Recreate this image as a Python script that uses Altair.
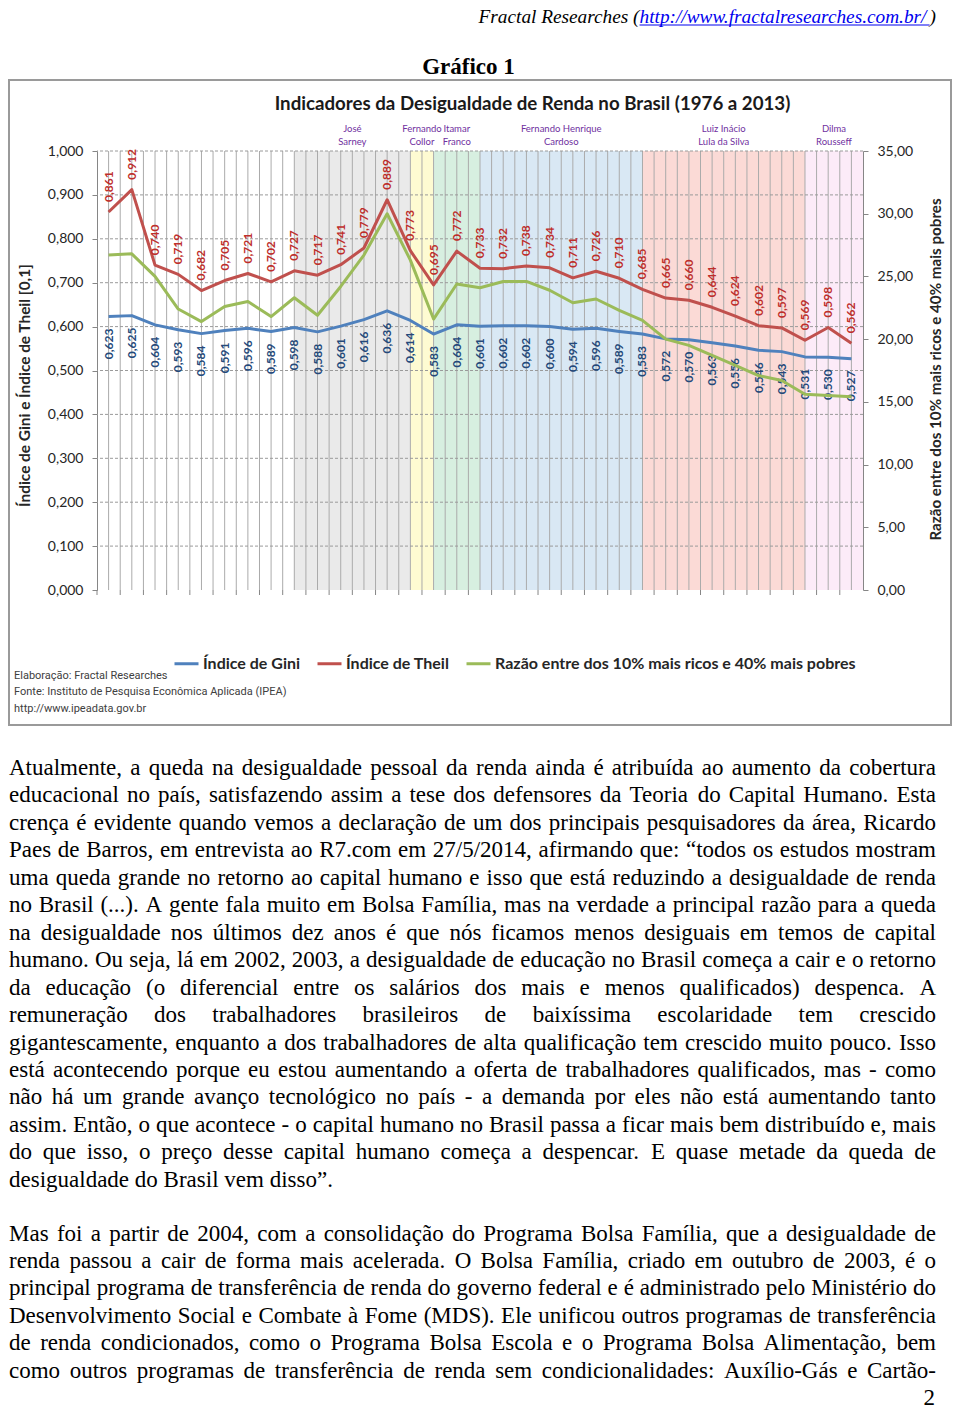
import unicodedata
import altair as alt
import pandas as pd

# ---------------- data ----------------
YEARS = ["1976", "1977", "1978", "1979", "1981", "1982", "1983", "1984", "1985",
         "1986", "1987", "1988", "1989", "1990", "1992", "1993", "1995", "1996",
         "1997", "1998", "1999", "2001", "2002", "2003", "2004", "2005", "2006",
         "2007", "2008", "2009", "2011", "2012", "2013"]
GINI = [0.623, 0.625, 0.604, 0.593, 0.584, 0.591, 0.596, 0.589, 0.598, 0.588,
        0.601, 0.616, 0.636, 0.614, 0.583, 0.604, 0.601, 0.602, 0.602, 0.600,
        0.594, 0.596, 0.589, 0.583, 0.572, 0.570, 0.563, 0.556, 0.546, 0.543,
        0.531, 0.530, 0.527]
THEIL = [0.861, 0.912, 0.740, 0.719, 0.682, 0.705, 0.721, 0.702, 0.727, 0.717,
         0.741, 0.779, 0.889, 0.773, 0.695, 0.772, 0.733, 0.732, 0.738, 0.734,
         0.711, 0.726, 0.710, 0.685, 0.665, 0.660, 0.644, 0.624, 0.602, 0.597,
         0.569, 0.598, 0.562]
RAZAO = [26.7, 26.8, 25.0, 22.4, 21.4, 22.6, 23.0, 21.8, 23.3, 21.9, 24.2, 26.7,
         30.0, 26.3, 21.6, 24.4, 24.1, 24.6, 24.6, 23.9, 22.9, 23.2, 22.3, 21.5,
         20.0, 19.5, 18.7, 17.9, 17.1, 16.7, 15.6, 15.5, 15.4]
SERIES = ["Índice de Gini", "Índice de Theil",
          "Razão entre dos 10% mais ricos e 40% mais pobres"]

PRES_LINE1 = ["José", "Fernando", "Itamar", "Fernando Henrique", "Luiz Inácio", "Dilma"]
PRES_LINE2 = ["Sarney", "Collor", "Franco", "Cardoso", "Lula da Silva", "Rousseff"]
TERM_START = ["1985", "1990", "1992", "1995", "2003", "2011"]
TERM_END = ["1990", "1992", "1995", "2003", "2011", ""]   # "" = up to the end of the axis

LEFT_TICKS = [0.0, 0.1, 0.2, 0.3, 0.4, 0.5, 0.6, 0.7, 0.8, 0.9, 1.0]
RIGHT_TICKS = [0, 5, 10, 15, 20, 25, 30, 35]

CHART_TITLE = "Indicadores da Desigualdade de Renda no Brasil (1976 a 2013)"
LEFT_TITLE = "Índice de Gini e Índice de Theil [0,1]"
RIGHT_TITLE = "Razão entre dos 10% mais ricos e 40% mais pobres"
SOURCE_LINES = ["Elaboração: Fractal Researches",
                "Fonte: Instituto de Pesquisa Econômica Aplicada (IPEA)",
                "http://www.ipeadata.gov.br"]
HEADER_PREFIX = "Fractal Researches ("
HEADER_LINK = "http://www.fractalresearches.com.br/"
HEADER_SUFFIX = ")"
CAPTION = "Gráfico 1"
PAGE_NUMBER = "2"

PARA1 = [
    "Atualmente, a queda na desigualdade pessoal da renda ainda é atribuída ao aumento da cobertura",
    "educacional no país, satisfazendo assim a tese dos defensores da Teoria do Capital Humano. Esta",
    "crença é evidente quando vemos a declaração de um dos principais pesquisadores da área, Ricardo",
    "Paes de Barros, em entrevista ao R7.com em 27/5/2014, afirmando que: “todos os estudos mostram",
    "uma queda grande no retorno ao capital humano e isso que está reduzindo a desigualdade de renda",
    "no Brasil (...). A gente fala muito em Bolsa Família, mas na verdade a principal razão para a queda",
    "na desigualdade nos últimos dez anos é que nós ficamos menos desiguais em temos de capital",
    "humano. Ou seja, lá em 2002, 2003, a desigualdade de educação no Brasil começa a cair e o retorno",
    "da educação (o diferencial entre os salários dos mais e menos qualificados) despenca. A",
    "remuneração dos trabalhadores brasileiros de baixíssima escolaridade tem crescido",
    "gigantescamente, enquanto a dos trabalhadores de alta qualificação tem crescido muito pouco. Isso",
    "está acontecendo porque eu estou aumentando a oferta de trabalhadores qualificados, mas - como",
    "não há um grande avanço tecnológico no país - a demanda por eles não está aumentando tanto",
    "assim. Então, o que acontece - o capital humano no Brasil passa a ficar mais bem distribuído e, mais",
    "do que isso, o preço desse capital humano começa a despencar. E quase metade da queda de",
    "desigualdade do Brasil vem disso”.",
]
PARA2 = [
    "Mas foi a partir de 2004, com a consolidação do Programa Bolsa Família, que a desigualdade de",
    "renda passou a cair de forma mais acelerada. O Bolsa Família, criado em outubro de 2003, é o",
    "principal programa de transferência de renda do governo federal e é administrado pelo Ministério do",
    "Desenvolvimento Social e Combate à Fome (MDS). Ele unificou outros programas de transferência",
    "de renda condicionados, como o Programa Bolsa Escola e o Programa Bolsa Alimentação, bem",
    "como outros programas de transferência de renda sem condicionalidades: Auxílio-Gás e Cartão-",
]

# ---------------- styles / layout ----------------
SERIES_COLORS = ["#4f81bd", "#c0504d", "#9bbb59"]
TERM_COLORS = ["#eaeaea", "#fefbd2", "#d7efe0", "#d9e8f4", "#fbdad6", "#fcebf8"]
PX0, PY0 = 97, 151            # plot-area origin on the page
W, H = 766, 439
TOTAL_W, TOTAL_H = 944, 1399

# Times (Liberation Serif) advance widths, 1/1000 em
TR = {' ': 250, ',': 250, '.': 250, ':': 278, ';': 278, '(': 333, ')': 333, '-': 333,
      '/': 278, '%': 833, '“': 444, '”': 444, '"': 408, '?': 444, '!': 333,
      'a': 444, 'b': 500, 'c': 444, 'd': 500, 'e': 444, 'f': 333, 'g': 500, 'h': 500,
      'i': 278, 'j': 278, 'k': 500, 'l': 278, 'm': 778, 'n': 500, 'o': 500, 'p': 500,
      'q': 500, 'r': 333, 's': 389, 't': 278, 'u': 500, 'v': 500, 'w': 722, 'x': 500,
      'y': 500, 'z': 444,
      'A': 722, 'B': 667, 'C': 667, 'D': 722, 'E': 611, 'F': 556, 'G': 722, 'H': 722,
      'I': 333, 'J': 389, 'K': 722, 'L': 611, 'M': 889, 'N': 722, 'O': 722, 'P': 556,
      'Q': 722, 'R': 667, 'S': 556, 'T': 611, 'U': 722, 'V': 722, 'W': 944, 'X': 722,
      'Y': 722, 'Z': 611}
TI = dict(TR)
TI.update({'F': 611, 'r': 389, 'a': 500, 'R': 611, ':': 333, 'w': 667, 'f': 278, 'm': 722})


def tw(s, table, size):
    tot = 0
    for ch in s:
        if ch.isdigit():
            tot += 500
        elif ch in table:
            tot += table[ch]
        else:
            tot += table.get(unicodedata.normalize('NFD', ch)[0], 500)
    return tot * size / 1000.0


def note(text, x, y, **kw):
    return alt.Chart(pd.DataFrame({"t": [text]})).mark_text(**kw).encode(
        text="t:N", x=alt.value(x - PX0), y=alt.value(y - PY0))


n = len(YEARS)
IDX = list(range(n))
xscale = alt.Scale(domain=[-0.5, n - 0.5], nice=False, zero=False)
yl = alt.Scale(domain=[0, 1], nice=False, zero=False)
yr = alt.Scale(domain=[0, 35], nice=False, zero=False)
color = alt.Color("serie:N", scale=alt.Scale(domain=SERIES, range=SERIES_COLORS),
                  legend=alt.Legend(orient="none", legendX=76, legendY=499,
                                    direction="horizontal", title=None,
                                    symbolType="stroke", symbolStrokeWidth=3,
                                    symbolSize=576, labelFont="Lato",
                                    labelFontSize=16, labelFontWeight="bold",
                                    labelColor="#262626", columnPadding=10,
                                    labelOffset=3, labelLimit=600))


def xenc(field):
    return alt.X(field, type="quantitative", scale=xscale, axis=None)


# ---- background presidential terms ----
terms = pd.DataFrame({
    "x1": [YEARS.index(s) for s in TERM_START],
    "x2": [YEARS.index(e) if e else n - 0.5 for e in TERM_END],
    "fillc": TERM_COLORS,
    "l1": PRES_LINE1,
    "l2": PRES_LINE2,
})
terms["mid"] = (terms["x1"] + terms["x2"]) / 2
rects = alt.Chart(terms).mark_rect().encode(
    x=xenc("x1"), x2="x2", y=alt.value(0), y2=alt.value(H),
    fill=alt.Fill("fillc:N", scale=None, legend=None))
pres1 = alt.Chart(terms).mark_text(font="Lato", fontSize=9.5, color="#7030a0").encode(
    x=xenc("mid"), y=alt.value(-22), text="l1:N")
pres2 = alt.Chart(terms).mark_text(font="Lato", fontSize=9.5, color="#7030a0").encode(
    x=xenc("mid"), y=alt.value(-9), text="l2:N")

# ---- vertical and horizontal grid ----
yrs = pd.DataFrame({"idx": IDX})
vcenter = alt.Chart(yrs).mark_rule(color="#ababab", strokeWidth=1).encode(x=xenc("idx"))
vbound = alt.Chart(yrs).transform_calculate(b="datum.idx - 0.5").transform_filter(
    "datum.b > -0.5").mark_rule(color="#ababab", strokeWidth=1).encode(x=xenc("b"))
xticks = alt.Chart(yrs).transform_calculate(b="datum.idx - 0.5").mark_rule(
    color="#868686", strokeWidth=1).encode(
    x=xenc("b"), y=alt.value(H), y2=alt.value(H + 5))
hgrid = alt.Chart(pd.DataFrame({"tick": LEFT_TICKS[1:]})).mark_rule(
    color="#9a9a9a", strokeWidth=1, strokeDash=[3, 2]).encode(
    y=alt.Y("tick:Q", scale=yl, axis=None))

# ---- series ----
lines_df = pd.DataFrame({"idx": IDX * 2, "val": GINI + THEIL,
                         "serie": [SERIES[0]] * n + [SERIES[1]] * n})
lab_expr = "[" + ",".join("'%s'" % y for y in YEARS) + "][datum.value]"
lines = alt.Chart(lines_df).mark_line(strokeWidth=3, strokeJoin="round").encode(
    x=alt.X("idx:Q", scale=xscale,
            axis=alt.Axis(values=IDX, labelExpr=lab_expr, labelAngle=270,
                          labelFont="Lato", labelFontSize=14, labelFontWeight="bold",
                          labelColor="#262626", labelPadding=10, ticks=False,
                          tickSize=0, grid=False, domainColor="#868686",
                          labelOverlap=False, labelFlush=False, title=None)),
    y=alt.Y("val:Q", scale=yl,
            axis=alt.Axis(orient="left", values=LEFT_TICKS, grid=False, tickSize=5,
                          tickColor="#868686", domainColor="#868686",
                          labelExpr="replace(format(datum.value, '.3f'), '.', ',')",
                          labelFont="Lato", labelFontSize=14, labelColor="#262626",
                          labelPadding=9, title=LEFT_TITLE, titleFont="Lato",
                          titleFontSize=15.4, titleFontWeight="bold",
                          titleColor="#262626", titleAngle=270, titleX=-73,
                          titleY=234, titleAlign="center", titleBaseline="middle")),
    color=color, detail="serie:N")

lab_df = pd.DataFrame({"idx": IDX, "gini": GINI, "theil": THEIL})
lab_df["gl"] = [("%.3f" % v).replace(".", ",") for v in GINI]
lab_df["tl"] = [("%.3f" % v).replace(".", ",") for v in THEIL]
theil_lab = alt.Chart(lab_df).mark_text(
    angle=270, align="left", baseline="middle", dx=10, font="Lato",
    fontSize=12, fontWeight="bold", color="#be2e2b").encode(
    x=xenc("idx"), y=alt.Y("theil:Q", scale=yl, axis=None), text="tl:N")
gini_lab = alt.Chart(lab_df).mark_text(
    angle=270, align="right", baseline="middle", dx=-12, font="Lato",
    fontSize=12, fontWeight="bold", color="#24497a").encode(
    x=xenc("idx"), y=alt.Y("gini:Q", scale=yl, axis=None), text="gl:N")

ratio_df = pd.DataFrame({"idx": IDX, "razao": RAZAO, "serie": SERIES[2]})
ratio = alt.Chart(ratio_df).mark_line(strokeWidth=3, strokeJoin="round").encode(
    x=xenc("idx"),
    y=alt.Y("razao:Q", scale=yr,
            axis=alt.Axis(orient="right", values=RIGHT_TICKS, grid=False,
                          tickSize=5, tickColor="#868686", domainColor="#868686",
                          labelExpr="replace(format(datum.value, '.2f'), '.', ',')",
                          labelFont="Lato", labelFontSize=14, labelColor="#262626",
                          labelPadding=9, title=RIGHT_TITLE, titleFont="Lato",
                          titleFontSize=15.2, titleFontWeight="bold",
                          titleColor="#262626", titleAngle=270, titleX=72,
                          titleY=218, titleAlign="center", titleBaseline="middle")),
    color=color)

# ---- chart frame, title, source ----
frame = alt.Chart(pd.DataFrame({"a": [0]})).mark_rect(
    fillOpacity=0, stroke="#9a9a9a", strokeWidth=2).encode(
    x=alt.value(9 - PX0), x2=alt.value(951 - PX0),
    y=alt.value(80 - PY0), y2=alt.value(725 - PY0))
title = note(CHART_TITLE, 532.5, 104, font="Lato", fontSize=18.7, fontWeight="bold",
             color="#1a1a1a")
src = [note(t, 14, yy, align="left", font="Roboto", fontSize=11, color="#404040")
       for t, yy in zip(SOURCE_LINES, [676, 692, 709])]

# ---- page header ----
HS = 19.3
w_suf = tw(HEADER_SUFFIX, TI, HS)
w_link = tw(HEADER_LINK, TI, HS)
link_r = 936 - w_suf
link_l = link_r - w_link
HB = 22.5
hdr_kw = dict(baseline="alphabetic", font="Liberation Serif", fontStyle="italic",
              fontSize=HS)
header = [
    note(HEADER_PREFIX, link_l, HB, align="right", color="black", **hdr_kw),
    note(HEADER_LINK, link_l, HB, align="left", color="#0000ee", **hdr_kw),
    note(HEADER_SUFFIX, link_r, HB, align="left", color="black", **hdr_kw),
    alt.Chart(pd.DataFrame({"a": [0]})).mark_rule(color="#0000ee", strokeWidth=1).encode(
        x=alt.value(link_l - PX0), x2=alt.value(link_r - PX0), y=alt.value(HB + 2.5 - PY0)),
    note(CAPTION, 468.5, 74, baseline="alphabetic", font="Liberation Serif",
         fontSize=23, fontWeight="bold", color="black"),
]

# ---- body text (justified) ----
FS = 23
LEFT, RIGHT = 9, 936
LEAD = 27.45
rows = []
for para, base, justify_last in ((PARA1, 775.0, False), (PARA2, 1240.5, True)):
    for k, line in enumerate(para):
        yb = base + k * LEAD
        words = line.split(" ")
        widths = [tw(w_, TR, FS) for w_ in words]
        justified = justify_last or k < len(para) - 1
        if justified and len(words) > 1:
            gap = (RIGHT - LEFT - sum(widths)) / (len(words) - 1)
        else:
            gap = tw(" ", TR, FS)
        x = LEFT
        for i, (w_, wd) in enumerate(zip(words, widths)):
            last = justified and i == len(words) - 1 and len(words) > 1
            rows.append({"w": w_, "px": (RIGHT if last else x) - PX0,
                         "py": yb - PY0, "al": "right" if last else "left"})
            x += wd + gap
words_df = pd.DataFrame(rows)
body_kw = dict(baseline="alphabetic", font="Liberation Serif", fontSize=FS, color="black")
body_l = alt.Chart(words_df).transform_filter("datum.al == 'left'").mark_text(
    align="left", **body_kw).encode(
    x=alt.X("px:Q", scale=None, axis=None), y=alt.Y("py:Q", scale=None, axis=None),
    text="w:N")
body_r = alt.Chart(words_df).transform_filter("datum.al == 'right'").mark_text(
    align="right", **body_kw).encode(
    x=alt.X("px:Q", scale=None, axis=None), y=alt.Y("py:Q", scale=None, axis=None),
    text="w:N")
pagenum = note(PAGE_NUMBER, 935, 1405, align="right", **body_kw)

chart = alt.layer(rects, vcenter, vbound, xticks, hgrid, lines, theil_lab, gini_lab,
                  ratio, pres1, pres2, frame, title, *src, *header, body_l, body_r,
                  pagenum).resolve_scale(y="independent").properties(
    width=W, height=H,
    autosize=alt.AutoSizeParams(type="none"),
    padding={"left": PX0 - 8, "top": PY0 - 8,
             "right": TOTAL_W - (PX0 - 8) - W,
             "bottom": TOTAL_H - (PY0 - 8) - H},
    background="white",
).configure_view(strokeWidth=0)

chart.save("out.html", embed_options={"renderer": "svg", "actions": False})
